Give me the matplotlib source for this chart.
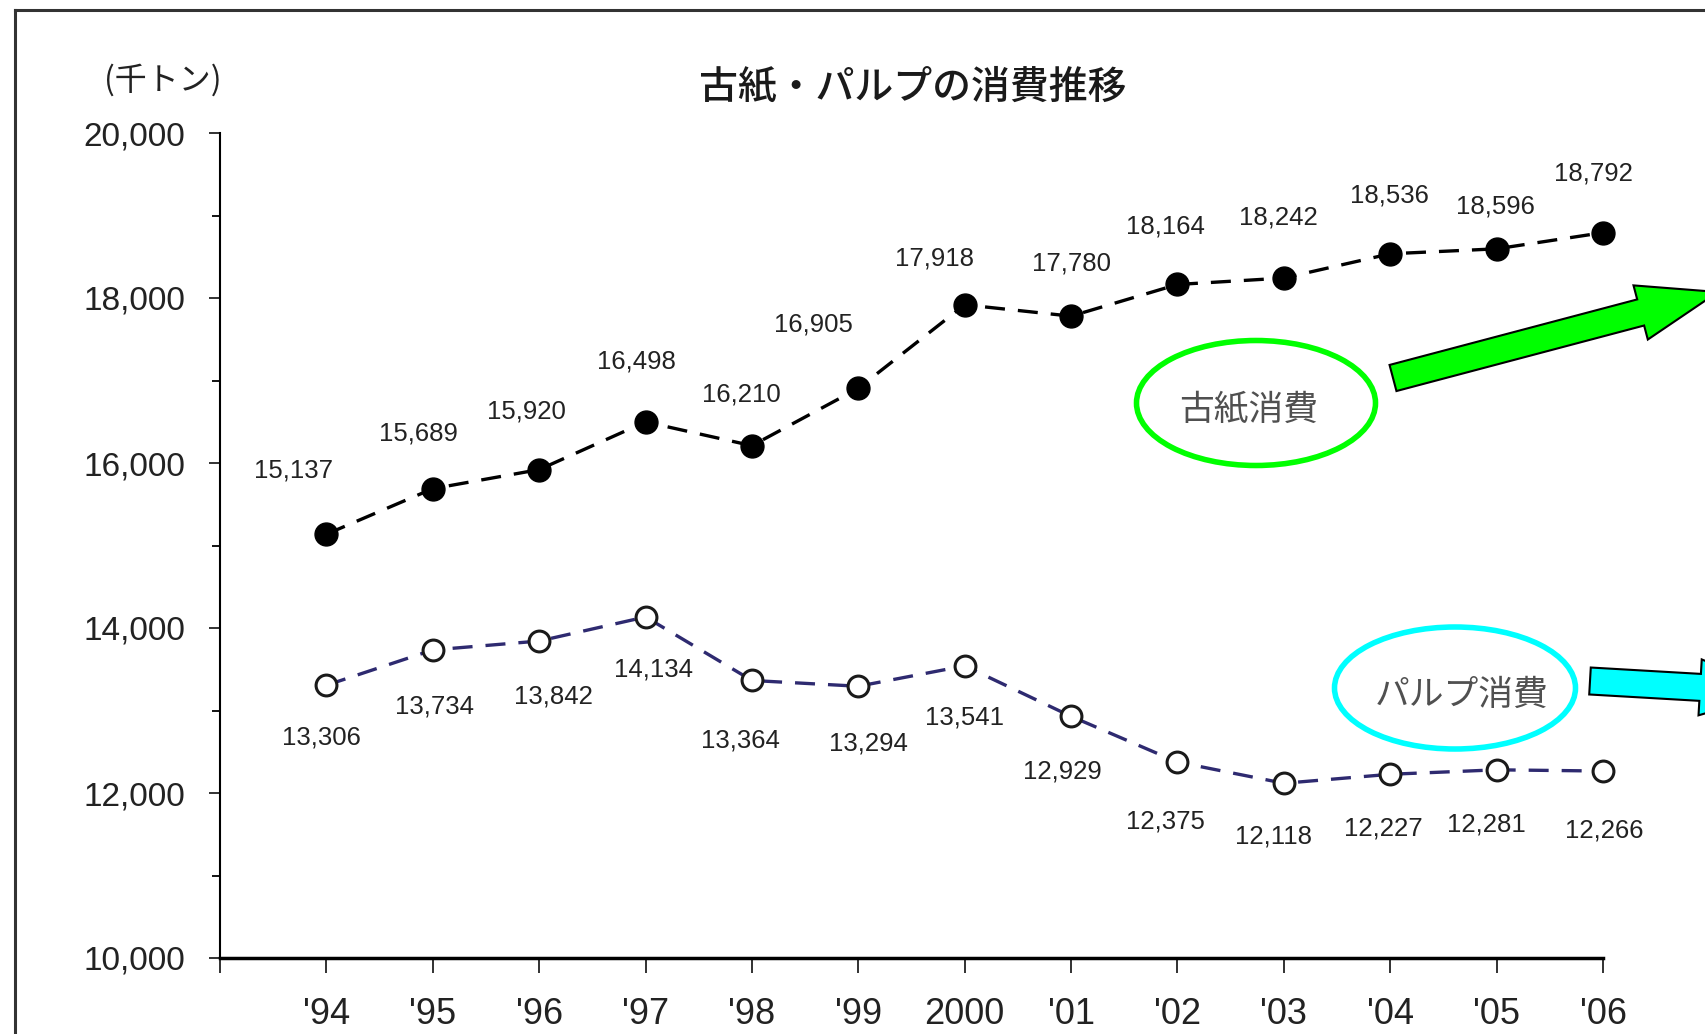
"""Line chart of waste paper and pulp consumption (thousand tons), 1994-2006"""

import matplotlib
matplotlib.use('Agg')
import numpy as np
from matplotlib import pyplot as plt
from matplotlib.patches import Ellipse, Polygon
from matplotlib.lines import Line2D

plt.rcParams['font.family'] = ['Noto Sans CJK JP', 'DejaVu Sans']
NUM_FONT = ['Liberation Sans', 'DejaVu Sans']

# data
years = ["'94", "'95", "'96", "'97", "'98", "'99", '2000', "'01", "'02", "'03", "'04", "'05", "'06"]
waste_paper = [15137, 15689, 15920, 16498, 16210, 16905, 17918, 17780, 18164, 18242, 18536, 18596, 18792]
pulp = [13306, 13734, 13842, 14134, 13364, 13294, 13541, 12929, 12375, 12118, 12227, 12281, 12266]

# label offsets in pixels (dx, dy) from each point
waste_offsets = [(-33, 64), (-14, 55), (-13, 58), (-9, 60), (-11, 51), (-45, 64), (-30, 46),
                 (0, 53), (-12, 58), (-5, 61), (-1, 58), (-1, 42), (-10, 59)]
pulp_offsets = [(-5, -52), (2, -57), (14, -55), (8, -53), (-11, -60), (10, -57), (0, -52),
                (-9, -55), (-12, -59), (-10, -53), (-7, -54), (-10, -55), (1, -59)]

W, H = 1705, 1034
fig = plt.figure(figsize=(W / 100, H / 100), dpi=100)
fig.patch.set_facecolor('white')

ax = fig.add_axes([220 / W, 1 - 958 / H, (1603 - 220) / W, (958 - 133) / H])
x = np.arange(len(years))

ax.plot(x, waste_paper, color='black', lw=2.4, linestyle=(0, (6, 3.9)),
        marker='o', markersize=16.5, markerfacecolor='black', markeredgecolor='black',
        zorder=3, clip_on=False)
ax.plot(x, pulp, color='#2e2a70', lw=2.4, linestyle=(0, (6, 3.9)),
        marker='o', markersize=15, markerfacecolor='white', markeredgecolor='#1a1a1a',
        markeredgewidth=2.2, zorder=3, clip_on=False)

for xi, v, (dx, dy) in zip(x, waste_paper, waste_offsets):
    ax.annotate(f'{v:,}', (xi, v), xytext=(dx, dy), textcoords='offset pixels',
                ha='center', va='center', fontsize=18.5, family=NUM_FONT, color='#222222')
for xi, v, (dx, dy) in zip(x, pulp, pulp_offsets):
    ax.annotate(f'{v:,}', (xi, v), xytext=(dx, dy), textcoords='offset pixels',
                ha='center', va='center', fontsize=18.5, family=NUM_FONT, color='#222222')

ax.set_xlim(-1, 12)
ax.set_ylim(10000, 20000)
ax.set_xticks(np.arange(-1, 13))
ax.set_xticklabels([''] + years, family=NUM_FONT, fontsize=26)
ax.set_yticks(np.arange(10000, 20001, 2000))
ax.set_yticks(np.arange(11000, 20000, 2000), minor=True)
ax.set_yticklabels([f'{v:,}' for v in range(10000, 20001, 2000)], family=NUM_FONT, fontsize=24)
ax.tick_params(axis='x', direction='out', length=11, width=1.3, pad=17, colors='#222222')
ax.tick_params(axis='y', which='major', direction='out', length=8, width=1.3, pad=17, colors='#222222')
ax.tick_params(axis='y', which='minor', direction='out', length=6, width=1.3)
for side in ['top', 'right']:
    ax.spines[side].set_visible(False)
ax.spines['left'].set_linewidth(1.5)
ax.spines['bottom'].set_linewidth(2.5)
ax.patch.set_alpha(0)

# overlay in pixel coords for annotations and frame
ov = fig.add_axes([0, 0, 1, 1], zorder=5)
ov.set_xlim(0, W)
ov.set_ylim(H, 0)
ov.axis('off')
ov.patch.set_alpha(0)

ov.add_line(Line2D([15, 15], [10, H], color='#333333', lw=2.2))
ov.add_line(Line2D([15, W], [10, 10], color='#333333', lw=2.2))

ov.text(913, 88, '古紙・パルプの消費推移', fontsize=28, fontweight='medium', ha='center', va='center',
        color='#1a1a1a')
ov.text(163, 80, '(千トン)', fontsize=23, ha='center', va='center', color='#222222')

ov.add_patch(Ellipse((1256, 403), 239, 125, fill=False, edgecolor='#00ff00', lw=4))
ov.text(1249, 410, '古紙消費', fontsize=25, ha='center', va='center', color='#505050')
ov.add_patch(Ellipse((1455, 688), 241, 122, fill=False, edgecolor='#00ffff', lw=4))
ov.text(1462, 695, 'パルプ消費', fontsize=25, ha='center', va='center', color='#505050')


def block_arrow(x0, y0, x1, y1, shaft_w, head_w, head_len, color):
    d = np.array([x1 - x0, y1 - y0], dtype=float)
    L = np.hypot(*d)
    u = d / L
    n = np.array([-u[1], u[0]])
    p0 = np.array([x0, y0], dtype=float)
    base = p0 + u * (L - head_len)
    pts = [p0 + n * shaft_w / 2, base + n * shaft_w / 2, base + n * head_w / 2,
           np.array([x1, y1]), base - n * head_w / 2, base - n * shaft_w / 2,
           p0 - n * shaft_w / 2]
    ov.add_patch(Polygon(pts, closed=True, facecolor=color, edgecolor='black', lw=1.5))


block_arrow(1393, 378, 1718, 292, 27, 56, 80, '#00ff00')
block_arrow(1590, 681, 1780, 692, 27, 56, 80, '#00ffff')

fig.savefig('out.png', dpi=100)
